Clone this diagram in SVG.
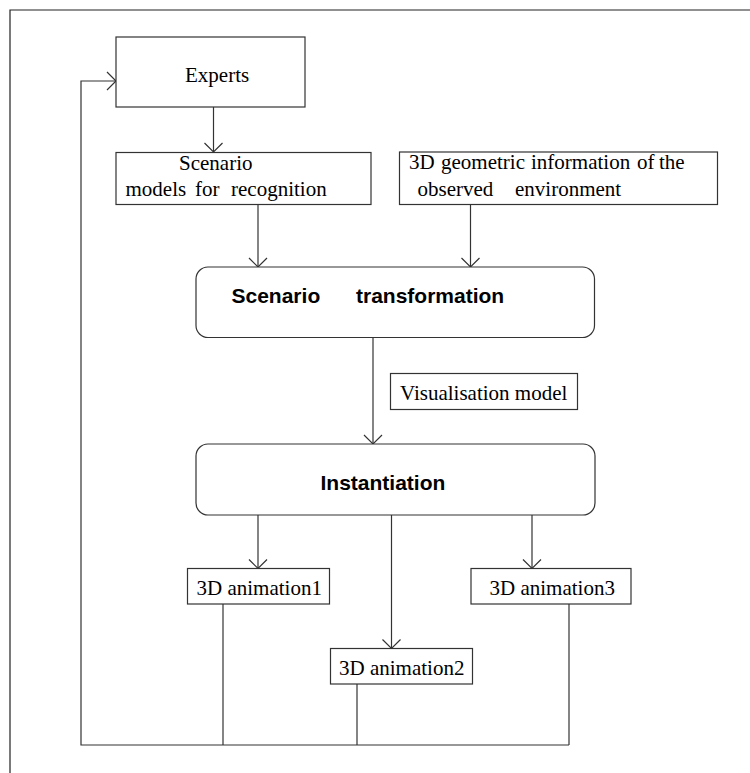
<svg xmlns="http://www.w3.org/2000/svg" width="750" height="773" viewBox="0 0 750 773">
<style>
.box{fill:#fff;stroke:#333;stroke-width:1.2}
.ln{fill:none;stroke:#333;stroke-width:1.2}
.t{font-family:"Liberation Serif","Times New Roman",serif;font-size:21px;fill:#000}
.b{font-family:"Liberation Sans",Arial,sans-serif;font-size:21px;font-weight:bold;fill:#000}
</style>
<defs>
<marker id="arr" markerUnits="userSpaceOnUse" markerWidth="22" markerHeight="22" viewBox="0 0 22 22" refX="11" refY="11" orient="auto" overflow="visible">
<path d="M2,2 L11,11 L2,20" fill="none" stroke="#333" stroke-width="1.2"/>
</marker>
</defs>
<rect width="750" height="773" fill="#fff"/>
<path d="M10,773 L10,10 L750,10" fill="none" stroke="#222" stroke-width="1.2"/>
<g id="connectors">
<path class="ln" d="M213.5,107 L213.5,152" marker-end="url(#arr)"/>
<path class="ln" d="M258,204.5 L258,267" marker-end="url(#arr)"/>
<path class="ln" d="M470.5,204.5 L470.5,267" marker-end="url(#arr)"/>
<path class="ln" d="M373,337.5 L373,444" marker-end="url(#arr)"/>
<path class="ln" d="M258,515 L258,568.5" marker-end="url(#arr)"/>
<path class="ln" d="M532,515 L532,568.5" marker-end="url(#arr)"/>
<path class="ln" d="M391.5,515 L391.5,648.5" marker-end="url(#arr)"/>
<path class="ln" d="M223,604 L223,745"/>
<path class="ln" d="M357,684 L357,745"/>
<path class="ln" d="M569,604 L569,745"/>
<path class="ln" d="M569,745 L81,745 L81,81 L116,81" marker-end="url(#arr)"/>
</g>
<g id="experts">
<rect class="box" x="116" y="37" width="189" height="70"/>
<text class="t" x="185" y="82">Experts</text>
</g>
<g id="scenario-models">
<rect class="box" x="116" y="152.5" width="255" height="52"/>
<text class="t" x="179" y="170">Scenario</text>
<text class="t" y="196"><tspan x="125.5">models</tspan><tspan x="195">for</tspan><tspan x="231">recognition</tspan></text>
</g>
<g id="geometric-info">
<rect class="box" x="399.5" y="152" width="318" height="52.5"/>
<text class="t" y="169"><tspan x="409">3D</tspan><tspan x="441">geometric</tspan><tspan x="531">information</tspan><tspan x="637">of</tspan><tspan x="659">the</tspan></text>
<text class="t" y="196"><tspan x="417.5">observed</tspan><tspan x="515">environment</tspan></text>
</g>
<g id="scenario-transformation">
<rect class="box" x="196" y="267" width="398.5" height="70.5" rx="12" ry="12"/>
<text class="b" y="302.5"><tspan x="231.5">Scenario</tspan><tspan x="356">transformation</tspan></text>
</g>
<g id="visualisation-model">
<rect class="box" x="390.5" y="373.5" width="187" height="36"/>
<text class="t" x="400" y="400">Visualisation model</text>
</g>
<g id="instantiation">
<rect class="box" x="196" y="444" width="399" height="71" rx="12" ry="12"/>
<text class="b" x="320.5" y="489.5">Instantiation</text>
</g>
<g id="animation1">
<rect class="box" x="187.5" y="568.5" width="142" height="35.5"/>
<text class="t" x="196.5" y="595">3D animation1</text>
</g>
<g id="animation3">
<rect class="box" x="471" y="568.5" width="160" height="35.5"/>
<text class="t" x="489.5" y="595">3D animation3</text>
</g>
<g id="animation2">
<rect class="box" x="330.5" y="648.5" width="142" height="35.5"/>
<text class="t" x="339" y="675">3D animation2</text>
</g>
</svg>
